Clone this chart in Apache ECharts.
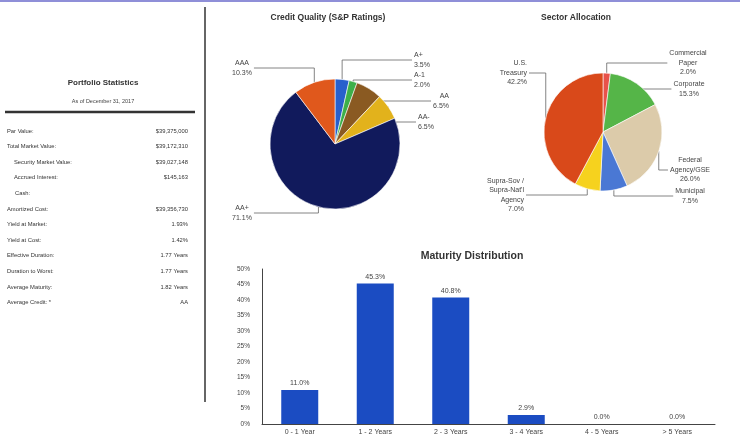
<!DOCTYPE html>
<html><head><meta charset="utf-8">
<script src="https://cdn.jsdelivr.net/npm/echarts@6/dist/echarts.min.js"></script>
<style>html,body{margin:0;padding:0;background:#fff}#c{width:740px;height:439px}</style>
</head><body><div id="c"></div>
<script>
// ---- data ----
const creditNames = ['A+', 'A-1', 'AA', 'AA-', 'AA+', 'AAA'];
const creditValues = [3.5, 2.0, 6.5, 6.5, 71.1, 10.3];
const sectorNames = ['Commercial\nPaper', 'Corporate', 'Federal\nAgency/GSE', 'Municipal', "Supra-Sov /\nSupra-Nat'l\nAgency", 'U.S.\nTreasury'];
const sectorValues = [2.0, 15.3, 26.0, 7.5, 7.0, 42.2];
const maturityCategories = ['0 - 1 Year', '1 - 2 Years', '2 - 3 Years', '3 - 4 Years', '4 - 5 Years', '> 5 Years'];
const maturityValues = [11.0, 45.3, 40.8, 2.9, 0.0, 0.0];
const yTicks = [0, 5, 10, 15, 20, 25, 30, 35, 40, 45, 50];
const statLabels = ['Par Value:', 'Total Market Value:', 'Security Market Value:', 'Accrued Interest:', 'Cash:', 'Amortized Cost:', 'Yield at Market:', 'Yield at Cost:', 'Effective Duration:', 'Duration to Worst:', 'Average Maturity:', 'Average Credit: *'];
const statValues = ['$39,375,000', '$39,172,310', '$39,027,148', '$145,163', '', '$39,356,730', '1.93%', '1.42%', '1.77 Years', '1.77 Years', '1.82 Years', 'AA'];
const statsTitle = 'Portfolio Statistics';
const statsSubtitle = 'As of December 31, 2017';
const creditTitle = 'Credit Quality (S&P Ratings)';
const sectorTitle = 'Sector Allocation';
const maturityTitle = 'Maturity Distribution';

// ---- styles / layout ----
const creditColors = ['#2860cc', '#3db04a', '#8a5a22', '#e2b21c', '#111a5c', '#e0581c'];
const sectorColors = ['#e8524a', '#55b548', '#dccbaa', '#4a78d4', '#f6d21e', '#d9491a'];
const creditLabelPos = [
  {x: 414, y: 60, align: 'left'},
  {x: 414, y: 80, align: 'left'},
  {x: 449, y: 101, align: 'right'},
  {x: 418, y: 122, align: 'left'},
  {x: 242, y: 213, align: 'center'},
  {x: 242, y: 68, align: 'center'}
];
const sectorLabelPos = [
  {x: 688, y: 63, align: 'center'},
  {x: 689, y: 89, align: 'center'},
  {x: 690, y: 170, align: 'center'},
  {x: 690, y: 196, align: 'center'},
  {x: 524, y: 195, align: 'right'},
  {x: 527, y: 73, align: 'right'}
];
const indentX = {2: 14, 3: 14, 4: 15};
const FONT = '"Liberation Sans", Arial, sans-serif';

const chart = echarts.init(document.getElementById('c'), null, {renderer: 'canvas'});

const graphics = [
  {type: 'rect', shape: {x: 0, y: 0, width: 740, height: 2}, style: {fill: '#8f8fd8'}, silent: true},
  {type: 'line', shape: {x1: 205, y1: 7, x2: 205, y2: 402}, style: {stroke: '#333', lineWidth: 1.5}},
  {type: 'line', shape: {x1: 5, y1: 112, x2: 195, y2: 112}, style: {stroke: '#333', lineWidth: 2.5}},
  {type: 'text', x: 103, y: 83, style: {text: statsTitle, font: 'bold 8px ' + FONT, fill: '#333', textAlign: 'center', textVerticalAlign: 'middle'}},
  {type: 'text', x: 103, y: 101, style: {text: statsSubtitle, font: '5.5px ' + FONT, fill: '#444', textAlign: 'center', textVerticalAlign: 'middle'}},
  {type: 'text', x: 328, y: 18, style: {text: creditTitle, font: 'bold 8.5px ' + FONT, fill: '#333', textAlign: 'center', textVerticalAlign: 'middle'}},
  {type: 'text', x: 576, y: 18, style: {text: sectorTitle, font: 'bold 8.5px ' + FONT, fill: '#333', textAlign: 'center', textVerticalAlign: 'middle'}},
  {type: 'text', x: 472, y: 256, style: {text: maturityTitle, font: 'bold 10.5px ' + FONT, fill: '#333', textAlign: 'center', textVerticalAlign: 'middle'}}
];
statLabels.forEach((lab, i) => {
  const y = 131 + i * 15.6;
  graphics.push({type: 'text', x: indentX[i] != null ? indentX[i] : 7, y: y,
    style: {text: lab, font: '5.8px ' + FONT, fill: '#333', textAlign: 'left', textVerticalAlign: 'middle'}});
  graphics.push({type: 'text', x: 188, y: y,
    style: {text: statValues[i], font: '5.8px ' + FONT, fill: '#333', textAlign: 'right', textVerticalAlign: 'middle'}});
});

const pieLabel = {
  show: true, position: 'outside', fontSize: 7, lineHeight: 9.5, color: '#444', fontFamily: FONT,
  formatter: p => p.name + '\n' + p.value.toFixed(1) + '%'
};
const pieLabelLine = {show: true, length: 8, length2: 10, smooth: false, lineStyle: {color: '#666', width: 0.8}};

// elbow leader line: from the library's anchor on the slice, vertical to the label's row, then horizontal to its edge
function elbowLayout(posList) {
  return function (p) {
    const pos = posList[p.dataIndex];
    const w = p.labelRect.width;
    let left = pos.align === 'left' ? pos.x : pos.align === 'right' ? pos.x - w : pos.x - w / 2;
    const right = left + w;
    const out = Object.assign({verticalAlign: 'middle'}, pos);
    if (p.labelLinePoints && p.labelLinePoints.length) {
      const a = p.labelLinePoints[0];
      const ex = a[0] < left ? left - 2 : right + 2;
      out.labelLinePoints = [[a[0], a[1]], [a[0], pos.y], [ex, pos.y]];
    }
    return out;
  };
}

chart.setOption({
  animation: false,
  backgroundColor: '#fff',
  graphic: graphics,
  grid: {left: 262, right: 25, top: 269, bottom: 15, containLabel: false},
  xAxis: {
    type: 'category', data: maturityCategories,
    axisLine: {show: true, lineStyle: {color: '#444', width: 1}},
    axisTick: {show: false},
    axisLabel: {fontSize: 7, color: '#444', margin: 5, fontFamily: FONT, interval: 0}
  },
  yAxis: {
    type: 'value', min: yTicks[0], max: yTicks[yTicks.length - 1], interval: yTicks[1] - yTicks[0],
    axisLine: {show: true, lineStyle: {color: '#444', width: 1}},
    axisTick: {show: false},
    splitLine: {show: false},
    axisLabel: {fontSize: 6.5, color: '#444', margin: 12, fontFamily: FONT, formatter: '{value}%'}
  },
  series: [
    {
      type: 'bar', data: maturityValues, barWidth: '49%',
      itemStyle: {color: '#1b4cc2'},
      label: {show: true, position: 'top', fontSize: 7, color: '#444', distance: 3, fontFamily: FONT,
        formatter: p => p.value.toFixed(1) + '%'}
    },
    {
      type: 'pie', center: [335, 144], radius: 65, startAngle: 90, clockwise: true,
      data: creditNames.map((n, i) => ({name: n, value: creditValues[i], itemStyle: {color: creditColors[i]}})),
      itemStyle: {borderColor: '#fff', borderWidth: 0.6},
      label: pieLabel, labelLine: pieLabelLine,
      labelLayout: elbowLayout(creditLabelPos)
    },
    {
      type: 'pie', center: [603, 132], radius: 59, startAngle: 90, clockwise: true,
      data: sectorNames.map((n, i) => ({name: n, value: sectorValues[i], itemStyle: {color: sectorColors[i]}})),
      itemStyle: {borderColor: '#fff', borderWidth: 0.6},
      label: pieLabel, labelLine: pieLabelLine,
      labelLayout: elbowLayout(sectorLabelPos)
    }
  ]
});
</script>
</body></html>
